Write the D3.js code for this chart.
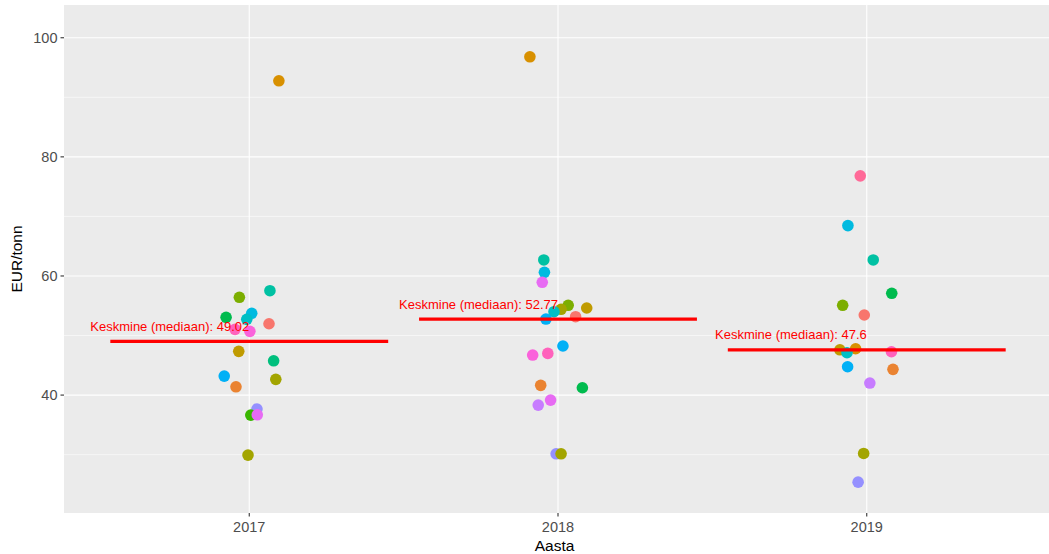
<!DOCTYPE html>
<html>
<head>
<meta charset="utf-8">
<script src="https://cdn.jsdelivr.net/npm/d3@7"></script>
<style>
  body { margin: 0; background: #fff; }
  svg { display: block; font-family: "Liberation Sans", Arial, sans-serif; }
</style>
</head>
<body>
<svg id="chart"></svg>
<script>
// years on the x axis
var years = ["2017", "2018", "2019"];

// EUR/tonn per point, per year
var val2017 = [92.77, 57.53, 56.42, 53.73, 53.06, 52.72, 51.98, 51.04, 50.70, 47.34, 45.76, 43.19, 42.64, 41.39, 37.65, 36.64, 36.69, 29.92];
var val2018 = [96.80, 62.69, 60.62, 58.94, 55.08, 54.62, 54.40, 54.00, 53.16, 52.77, 48.24, 46.72, 47.00, 41.63, 41.23, 39.16, 38.32, 30.14, 30.14];
var val2019 = [76.81, 68.46, 62.69, 57.09, 55.08, 53.45, 47.60, 47.78, 47.11, 47.28, 44.76, 44.32, 42.02, 30.20, 25.38];

// horizontal jitter of each point (in category units)
var jit2017 = [0.096, 0.067, -0.032, 0.008, -0.075, -0.008, 0.064, -0.046, 0.002, -0.034, 0.079, -0.081, 0.086, -0.043, 0.025, 0.005, 0.026, -0.004];
var jit2018 = [-0.091, -0.046, -0.044, -0.051, 0.033, 0.093, 0.010, -0.013, 0.057, -0.039, 0.016, -0.082, -0.033, -0.056, 0.079, -0.024, -0.064, -0.006, 0.010];
var jit2019 = [-0.021, -0.061, 0.021, 0.081, -0.078, -0.008, -0.087, -0.036, -0.064, 0.080, -0.062, 0.085, 0.010, -0.010, -0.028];

// group (colour) of each point, 1..20
var grp2017 = [3, 10, 6, 12, 8, 11, 1, 19, 18, 4, 9, 13, 5, 2, 15, 7, 17, 5];
var grp2018 = [3, 10, 12, 17, 6, 4, 5, 11, 1, 13, 13, 18, 19, 2, 8, 17, 16, 15, 5];
var grp2019 = [20, 12, 10, 8, 6, 1, 4, 3, 11, 19, 13, 2, 16, 5, 15];

// ggplot default hue palette for 20 groups
var palette = ["#F8766D", "#EA8331", "#D89000", "#C09B00", "#A3A500", "#7CAE00", "#39B600", "#00BB4E", "#00BF7D", "#00C1A3",
               "#00BFC4", "#00BAE0", "#00B0F6", "#35A2FF", "#9590FF", "#C77CFF", "#E76BF3", "#FA62DB", "#FF62BC", "#FF6A98"];

var yTicks = [40, 60, 80, 100];
var yMinor = [30, 50, 70, 90];

var W = 1049, H = 554;
var m = { left: 64, right: -3, top: 5, bottom: 41 };

var svg = d3.select("#chart").attr("width", W).attr("height", H);

var pw = W - m.left - m.right, ph = H - m.top - m.bottom;
var g = svg.append("g").attr("transform", "translate(" + m.left + "," + m.top + ")");

// discrete x: 0.6 expansion each side like ggplot
var x = d3.scaleLinear().domain([0.4, 3.6]).range([0, pw]);
var y = d3.scaleLinear().domain([20.2, 105.5]).range([ph, 0]);

var color = d3.scaleOrdinal().domain(d3.range(1, palette.length + 1)).range(palette);

var rows = [];
[[val2017, jit2017, grp2017], [val2018, jit2018, grp2018], [val2019, jit2019, grp2019]].forEach(function (s, k) {
    s[0].forEach(function (v, i) {
        rows.push({ year: k + 1, value: v, jit: s[1][i], grp: s[2][i] });
    });
});

var medians = years.map(function (yr, k) {
    return { year: k + 1, med: d3.median(rows.filter(function (r) { return r.year == k + 1; }), function (r) { return r.value; }) };
});

// panel
g.append("rect").attr("width", pw).attr("height", ph).attr("fill", "#EBEBEB");

g.selectAll(".minor").data(yMinor).enter().append("line")
    .attr("x1", 0).attr("x2", pw)
    .attr("y1", function (d) { return y(d); }).attr("y2", function (d) { return y(d); })
    .attr("stroke", "#fff").attr("stroke-width", 0.55);
g.selectAll(".major").data(yTicks).enter().append("line")
    .attr("x1", 0).attr("x2", pw)
    .attr("y1", function (d) { return y(d); }).attr("y2", function (d) { return y(d); })
    .attr("stroke", "#fff").attr("stroke-width", 1.1);
g.selectAll(".vmajor").data(years).enter().append("line")
    .attr("x1", function (d, i) { return x(i + 1); }).attr("x2", function (d, i) { return x(i + 1); })
    .attr("y1", 0).attr("y2", ph)
    .attr("stroke", "#fff").attr("stroke-width", 1.1);

// points
g.selectAll(".pt").data(rows).enter().append("circle")
    .attr("cx", function (d) { return x(d.year + d.jit); })
    .attr("cy", function (d) { return y(d.value); })
    .attr("r", 5.8)
    .attr("fill", function (d) { return color(d.grp); });

// median lines + labels
g.selectAll(".med").data(medians).enter().append("line")
    .attr("x1", function (d) { return x(d.year - 0.45); })
    .attr("x2", function (d) { return x(d.year + 0.45); })
    .attr("y1", function (d) { return y(d.med); }).attr("y2", function (d) { return y(d.med); })
    .attr("stroke", "#FF0000").attr("stroke-width", 3.2);
g.selectAll(".medlab").data(medians).enter().append("text")
    .attr("x", function (d) { return x(d.year); })
    .attr("y", function (d) { return y(d.med) - 10.5; })
    .attr("text-anchor", "end")
    .attr("font-size", "13px")
    .attr("fill", "#FF0000")
    .text(function (d) { return "Keskmine (mediaan): " + (Math.round(d.med * 100) / 100); });

// axes
var gY = g.append("g");
yTicks.forEach(function (t) {
    gY.append("line").attr("x1", -3.5).attr("x2", 0).attr("y1", y(t)).attr("y2", y(t))
        .attr("stroke", "#333").attr("stroke-width", 1.1);
    gY.append("text").attr("x", -6.5).attr("y", y(t)).attr("dy", "0.35em")
        .attr("text-anchor", "end").attr("font-size", "14.5px").attr("fill", "#4D4D4D").text(t);
});
var gX = g.append("g").attr("transform", "translate(0," + ph + ")");
years.forEach(function (yr, i) {
    gX.append("line").attr("x1", x(i + 1)).attr("x2", x(i + 1)).attr("y1", 0).attr("y2", 3.5)
        .attr("stroke", "#333").attr("stroke-width", 1.1);
    gX.append("text").attr("x", x(i + 1)).attr("y", 19).attr("text-anchor", "middle")
        .attr("font-size", "14.5px").attr("fill", "#4D4D4D").text(yr);
});

svg.append("text").attr("x", m.left + (W - m.left) / 2 - 2).attr("y", H - 3)
    .attr("text-anchor", "middle").attr("font-size", "15.5px").attr("fill", "#000").text("Aasta");
svg.append("text").attr("transform", "translate(22," + (m.top + ph / 2) + ") rotate(-90)")
    .attr("text-anchor", "middle").attr("font-size", "15.5px").attr("fill", "#000").text("EUR/tonn");
</script>
</body>
</html>
